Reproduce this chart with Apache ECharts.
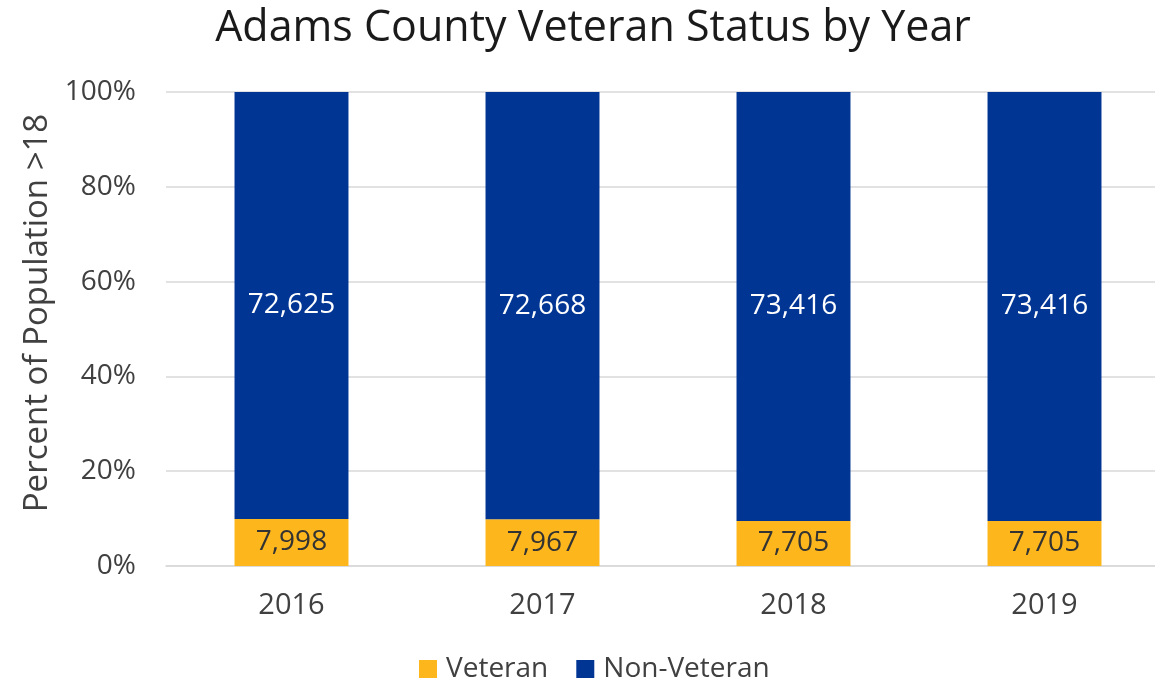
<!DOCTYPE html>
<html>
<head>
<meta charset="utf-8">
<script src="https://cdn.jsdelivr.net/npm/echarts@6/dist/echarts.min.js"></script>
<style>
  html, body { margin: 0; padding: 0; background: #fff; }
  #chart { width: 1155px; height: 683px; }
</style>
</head>
<body>
<div id="chart"></div>
<script>
// data
const years = ['2016', '2017', '2018', '2019']
const veteran = [7998, 7967, 7705, 7705]
const nonVeteran = [72625, 72668, 73416, 73416]
const yTicks = ['0%', '20%', '40%', '60%', '80%', '100%']

const totals = years.map((y, i) => veteran[i] + nonVeteran[i])
const vetPct = veteran.map((v, i) => v / totals[i] * 100)
const nonPct = nonVeteran.map((v, i) => v / totals[i] * 100)

const fontFamily = '"Open Sans", "Noto Sans", sans-serif'
const textColor = '#404040'

const chart = echarts.init(document.getElementById('chart'))

chart.setOption({
  animation: false,
  textStyle: { fontFamily: fontFamily },
  title: {
    text: 'Adams County Veteran Status by Year',
    left: 588,
    textAlign: 'center',
    top: 2,
    textStyle: { fontSize: 43, fontWeight: 'normal', color: '#1a1a1a', fontFamily: fontFamily }
  },
  legend: {
    top: 650,
    left: 414,
    itemWidth: 18,
    itemHeight: 18,
    itemGap: 28,
    icon: 'rect',
    textStyle: { fontSize: 28, color: textColor, fontFamily: fontFamily, padding: [0, 0, 0, 4] },
    data: ['Veteran', 'Non-Veteran']
  },
  grid: {
    left: 166,
    width: 1004,
    top: 92,
    bottom: 117,
    outerBoundsMode: 'none'
  },
  xAxis: {
    type: 'category',
    data: years,
    axisTick: { show: false },
    axisLine: { lineStyle: { color: '#d9d9d9', width: 1.5 } },
    axisLabel: { fontSize: 29, color: textColor, margin: 25, fontFamily: fontFamily }
  },
  yAxis: {
    type: 'value',
    min: 0,
    max: 100,
    interval: 20,
    name: 'Percent of Population >18',
    nameLocation: 'middle',
    nameGap: 109,
    nameRotate: 90,
    nameTextStyle: { fontSize: 33, color: textColor, fontFamily: fontFamily, padding: [0, 0, 0, 32] },
    axisLabel: {
      fontSize: 28,
      color: textColor,
      margin: 30,
      fontFamily: fontFamily,
      formatter: (v) => yTicks[Math.round(v / 20)]
    },
    splitLine: { lineStyle: { color: '#d9d9d9', width: 1.5 } }
  },
  series: [
    {
      name: 'Veteran',
      type: 'bar',
      stack: 'total',
      barWidth: '45.4%',
      data: vetPct,
      itemStyle: { color: '#FDB71C' },
      label: {
        show: true,
        position: 'inside',
        fontSize: 28,
        color: '#333',
        fontFamily: fontFamily,
        formatter: (p) => veteran[p.dataIndex].toLocaleString('en-US')
      }
    },
    {
      name: 'Non-Veteran',
      type: 'bar',
      stack: 'total',
      data: nonPct,
      itemStyle: { color: '#003594' },
      label: {
        show: true,
        position: 'inside',
        fontSize: 28,
        color: '#fff',
        fontFamily: fontFamily,
        formatter: (p) => nonVeteran[p.dataIndex].toLocaleString('en-US')
      }
    }
  ]
})
</script>
</body>
</html>
